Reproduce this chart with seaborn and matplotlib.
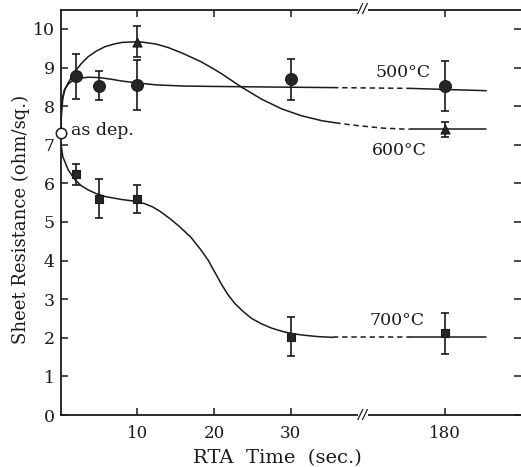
import numpy as np
import pandas as pd
import matplotlib
matplotlib.use("Agg")
import matplotlib.pyplot as plt
import matplotlib.transforms as mtransforms
import seaborn as sns

# ---- measured points (time in s, sheet resistance in ohm/sq.) ----
asdep_time = [0]
asdep_value = [7.3]

t500 = [2, 5, 10, 30, 180]
r500 = [8.77, 8.53, 8.55, 8.69, 8.53]
e500 = [0.58, 0.37, 0.65, 0.54, 0.65]

t600 = [10, 180]
r600 = [9.67, 7.40]
e600 = [0.41, 0.20]

t700 = [2, 5, 10, 30, 180]
r700 = [6.24, 5.60, 5.60, 2.03, 2.12]
e700 = [0.27, 0.50, 0.36, 0.50, 0.53]

# ---- hand-drawn trend curves: solid part, dashed bridge, solid tail ----
c500_t = [0, 0.1, 0.3, 0.5, 1.0, 1.5, 2.5, 3.6, 5, 6.5, 8, 10, 12.5, 16, 20, 25, 30, 35.5]
c500_r = [7.3, 7.95, 8.25, 8.42, 8.57, 8.65, 8.72, 8.75, 8.74, 8.70, 8.65, 8.60, 8.55, 8.52, 8.51, 8.50, 8.49, 8.48]
c500_dash_t = [35.5, 116]
c500_dash_r = [8.48, 8.46]
c500_tail_t = [116, 255]
c500_tail_r = [8.46, 8.40]

c600_t = [0, 0.1, 0.3, 0.6, 1.0, 1.9, 2.7, 3.6, 4.7, 5.8, 7, 8, 10.2, 12.4, 14, 15.9,
          18.3, 19.8, 20.9, 23.6, 26.2, 28.8, 31.4, 34.1, 35.8]
c600_r = [7.3, 7.7, 8.2, 8.45, 8.6, 8.9, 9.1, 9.28, 9.43, 9.54, 9.61, 9.65, 9.67, 9.61, 9.52, 9.37,
          9.15, 8.98, 8.85, 8.49, 8.18, 7.93, 7.75, 7.62, 7.57]
c600_dash_t = [35.8, 38, 40, 68, 116]
c600_dash_r = [7.57, 7.51, 7.47, 7.43, 7.40]
c600_tail_t = [116, 255]
c600_tail_r = [7.40, 7.40]

c700_t = [0, 0.05, 0.3, 1.0, 1.9, 2.7, 3.6, 4.7, 5.8, 8, 10, 11, 12, 13, 14.3, 15.5, 17,
          18.2, 19.2, 20.1, 20.9, 21.8, 22.7, 23.8, 24.9, 26.2, 27.5, 29, 30.4, 32, 33.6, 35.5]
c700_r = [7.3, 7.04, 6.69, 6.35, 6.09, 5.94, 5.83, 5.73, 5.66, 5.58, 5.53, 5.47, 5.39, 5.27, 5.08, 4.88, 4.6,
          4.3, 4.02, 3.7, 3.41, 3.12, 2.89, 2.68, 2.50, 2.36, 2.25, 2.16, 2.10, 2.06, 2.03, 2.01]
c700_dash_t = [35.5, 116]
c700_dash_r = [2.01, 2.01]
c700_tail_t = [116, 255]
c700_tail_r = [2.01, 2.01]

x_ticks = [10, 20, 30, 180]
y_ticks = list(range(0, 11))

# ---- broken time axis: linear up to 40 s, compressed beyond ----
BREAK = 40.0
K = 0.0719


def fwd(t):
    t = np.asarray(t, dtype=float)
    return np.where(t <= BREAK, t, BREAK + (t - BREAK) * K)


def inv(p):
    p = np.asarray(p, dtype=float)
    return np.where(p <= BREAK, p, BREAK + (p - BREAK) / K)


sns.set_theme(style="ticks")
plt.rcParams["font.family"] = ["DejaVu Serif"]

fig = plt.figure(figsize=(5.21, 4.67), dpi=100)
ax = fig.add_axes([60.5 / 521, 52 / 467, 460.5 / 521, 405 / 467])
ax.set_xscale("function", functions=(fwd, inv))

ink = "#1a1a1a"


def draw_curve(t, r, style="-"):
    df = pd.DataFrame({"t": t, "r": r})
    sns.lineplot(data=df, x="t", y="r", ax=ax, color=ink, lw=1.1,
                 sort=False, estimator=None, linestyle=style)


for main, dash, tail in [((c500_t, c500_r), (c500_dash_t, c500_dash_r), (c500_tail_t, c500_tail_r)),
                         ((c600_t, c600_r), (c600_dash_t, c600_dash_r), (c600_tail_t, c600_tail_r)),
                         ((c700_t, c700_r), (c700_dash_t, c700_dash_r), (c700_tail_t, c700_tail_r))]:
    draw_curve(*main)
    draw_curve(*dash, style=(0, (3.5, 2.5)))
    draw_curve(*tail)

# error bars and markers
for t, r, e, m, ms in [(t500, r500, e500, "o", 8.5),
                       (t600, r600, e600, "^", 6.5),
                       (t700, r700, e700, "s", 6)]:
    ax.errorbar(t, r, yerr=e, fmt="none", ecolor=ink, elinewidth=1.2,
                capsize=3.2, capthick=1.2, zorder=3)
    sns.scatterplot(x=t, y=r, ax=ax, marker=m, s=ms ** 2, color="#262626",
                    edgecolor=ink, linewidth=0.8, zorder=4)

ax.plot(asdep_time, asdep_value, "o", ms=7.5, mfc="white", mec=ink, mew=1.1,
        clip_on=False, zorder=5)

# annotations
tfs = 12.5
ax.text(1.33, 7.37, "as dep.", fontsize=tfs, ha="left", va="center", color=ink)
ax.text(104, 8.87, "500°C", fontsize=tfs, ha="center", va="center", color=ink)
ax.text(98, 6.85, "600°C", fontsize=tfs, ha="center", va="center", color=ink)
ax.text(93, 2.46, "700°C", fontsize=tfs, ha="center", va="center", color=ink)

# axis limits, ticks and frame
ax.set_xlim(0, 318)
ax.set_ylim(0, 10.49)
ax.set_xticks(x_ticks)
ax.set_xticklabels([str(v) for v in x_ticks])
ax.set_yticks(y_ticks)
ax.set_yticklabels([str(v) for v in y_ticks])
ax.minorticks_off()
ax.tick_params(axis="both", direction="in", length=5, width=1.1, colors=ink,
               top=True, right=True, labelsize=12.5)
ax.tick_params(axis="x", pad=7, labelsize=12)
ax.tick_params(axis="y", pad=4)
for side in ["left", "bottom", "top"]:
    ax.spines[side].set_linewidth(1.3)
    ax.spines[side].set_color(ink)
ax.spines["right"].set_visible(False)

ax.set_xlabel("RTA  Time  (sec.)", fontsize=14, color=ink)
ax.set_ylabel("Sheet Resistance (ohm/sq.)", fontsize=13, color=ink)
ax.xaxis.set_label_coords(0.472, -0.083)
ax.yaxis.set_label_coords(-0.066, 0.484)

# break marks on the time axis
trans = mtransforms.blended_transform_factory(ax.transData, ax.transAxes)
for yy in (0.0, 1.0):
    ax.text(39.4, yy, "//", transform=trans, ha="center", va="center",
            fontsize=9, fontstyle="italic", fontweight="bold", color=ink,
            bbox=dict(facecolor="white", edgecolor="none", pad=0.3), zorder=6,
            clip_on=False)

fig.savefig("out.png", dpi=100)
